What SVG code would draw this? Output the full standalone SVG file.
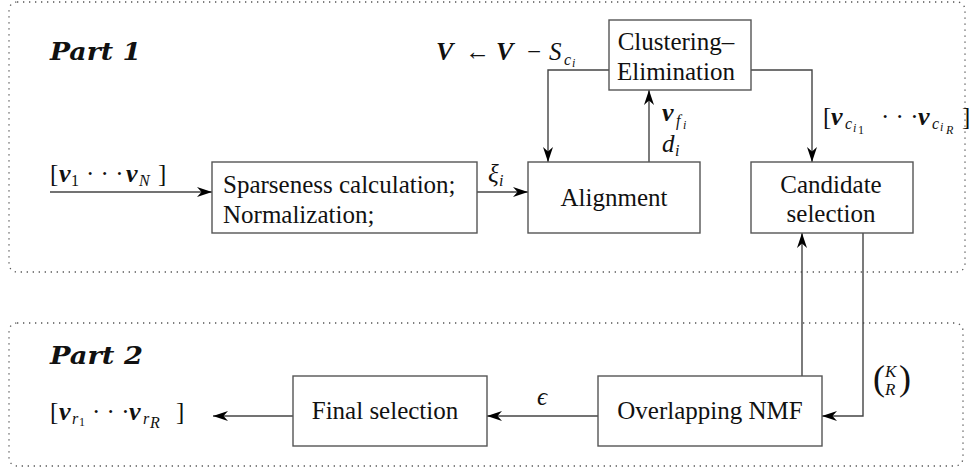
<svg xmlns="http://www.w3.org/2000/svg" width="971" height="471" viewBox="0 0 971 471">
<style>
.part{fill:none;stroke:#555;stroke-width:1.3;stroke-dasharray:1.3 4.7}
.box{fill:#fff;stroke:#555;stroke-width:1.4}
.lbl{font-family:"Liberation Serif","Times New Roman",serif;font-size:25px;fill:#111}
.math{font-family:"Liberation Serif","Times New Roman",serif;font-size:25px;font-style:italic;fill:#111}
.title{font-family:"DejaVu Serif",serif;font-size:24px;font-weight:bold;font-style:italic;fill:#111}
.b{font-weight:bold;font-size:26px}
.n{font-style:normal}
.sub{font-size:16px}
.ss{font-size:12px}
.conn{fill:none;stroke:#444;stroke-width:1.4}
</style>
<defs>
<marker id="arr" markerUnits="userSpaceOnUse" viewBox="-15 -6 16 12" refX="0" refY="0" markerWidth="16" markerHeight="12" orient="auto">
<path d="M0,0 L-15,-5 L-10.5,0 L-15,5 Z" fill="#000"/>
</marker>
</defs>
<rect width="971" height="471" fill="#fff"/>
<g id="part1">
<rect class="part" x="9" y="2" width="956" height="270" rx="8"/>
<text class="title" x="50" y="60" textLength="91" lengthAdjust="spacingAndGlyphs">Part 1</text>
</g>
<g id="part2">
<rect class="part" x="9" y="323" width="954" height="143" rx="8"/>
<text class="title" x="50" y="364" textLength="93" lengthAdjust="spacingAndGlyphs">Part 2</text>
</g>
<g id="connectors">
<path class="conn" d="M50,192 H212" marker-end="url(#arr)"/>
<path class="conn" d="M477,192 H528" marker-end="url(#arr)"/>
<path class="conn" d="M609,70 H548 V162" marker-end="url(#arr)"/>
<path class="conn" d="M649,162 V90" marker-end="url(#arr)"/>
<path class="conn" d="M751,70 H812 V162" marker-end="url(#arr)"/>
<path class="conn" d="M802,376 V233" marker-end="url(#arr)"/>
<path class="conn" d="M863,233 V416 H822" marker-end="url(#arr)"/>
<path class="conn" d="M598,416 H487" marker-end="url(#arr)"/>
<path class="conn" d="M293,416 H213" marker-end="url(#arr)"/>
</g>
<g id="sparseness">
<rect class="box" x="212" y="162" width="265" height="71"/>
<text class="lbl" x="223" y="193">Sparseness calculation;</text>
<text class="lbl" x="223" y="223">Normalization;</text>
</g>
<g id="alignment">
<rect class="box" x="528" y="162" width="172" height="71"/>
<text class="lbl" x="614" y="206" text-anchor="middle">Alignment</text>
</g>
<g id="clustering">
<rect class="box" x="609" y="20" width="142" height="70"/>
<text class="lbl" x="676" y="50" text-anchor="middle">Clustering–</text>
<text class="lbl" x="676" y="80" text-anchor="middle">Elimination</text>
</g>
<g id="candidate">
<rect class="box" x="751" y="162" width="162" height="71"/>
<text class="lbl" x="831" y="193" text-anchor="middle">Candidate</text>
<text class="lbl" x="831" y="222" text-anchor="middle">selection</text>
</g>
<g id="nmf">
<rect class="box" x="598" y="376" width="224" height="70"/>
<text class="lbl" x="710" y="419" text-anchor="middle">Overlapping NMF</text>
</g>
<g id="final">
<rect class="box" x="293" y="376" width="194" height="70"/>
<text class="lbl" x="385" y="419" text-anchor="middle">Final selection</text>
</g>
<g id="labels">
<text class="math" y="182"><tspan class="n" x="50">[</tspan><tspan class="b" x="59">v</tspan><tspan class="sub n" x="71" y="186">1</tspan><tspan class="n" x="86" y="182">· · ·</tspan><tspan class="b" x="126">v</tspan><tspan class="sub" x="139" y="186">N</tspan><tspan class="n" x="158" y="182">]</tspan></text>
<text class="math" y="182"><tspan x="488">ξ</tspan><tspan class="sub" x="499" y="186">i</tspan></text>
<text class="math" y="60"><tspan class="b" x="436">V</tspan><tspan class="n" x="465">←</tspan><tspan class="b" x="496">V</tspan><tspan class="n" x="527">−</tspan><tspan x="549">S</tspan><tspan class="sub" x="564" y="65">c</tspan><tspan class="ss" x="572" y="67">i</tspan></text>
<text class="math" y="121"><tspan class="b" x="662">v</tspan><tspan class="sub" x="676" y="126">f</tspan><tspan class="ss" x="683" y="129">i</tspan></text>
<text class="math" y="152"><tspan x="662">d</tspan><tspan class="sub" x="675" y="156">i</tspan></text>
<text class="math" y="125"><tspan class="n" x="823">[</tspan><tspan class="b" x="831">v</tspan><tspan class="sub" x="845" y="129">c</tspan><tspan class="ss" x="853" y="132">i</tspan><tspan class="ss n" x="858" y="134">1</tspan><tspan class="n" x="881" y="125">· · ·</tspan><tspan class="b" x="918">v</tspan><tspan class="sub" x="932" y="129">c</tspan><tspan class="ss" x="940" y="131">i</tspan><tspan class="ss" x="946" y="134">R</tspan><tspan class="n" x="962" y="125">]</tspan></text>
<text class="math" y="390"><tspan class="n" x="873" style="font-size:36px">(</tspan><tspan x="885" y="377" style="font-size:17px">K</tspan><tspan x="885" y="395" style="font-size:17px">R</tspan><tspan class="n" x="899" y="390" style="font-size:36px">)</tspan></text>
<text class="math" x="537" y="405">ϵ</text>
<text class="math" y="420"><tspan class="n" x="50">[</tspan><tspan class="b" x="59">v</tspan><tspan class="sub" x="72" y="424">r</tspan><tspan class="ss n" x="79" y="426">1</tspan><tspan class="n" x="92" y="420">· · ·</tspan><tspan class="b" x="129">v</tspan><tspan class="sub" x="143" y="424">r</tspan><tspan class="sub" x="150" y="428">R</tspan><tspan class="n" x="176" y="420">]</tspan></text>
</g>
</svg>
